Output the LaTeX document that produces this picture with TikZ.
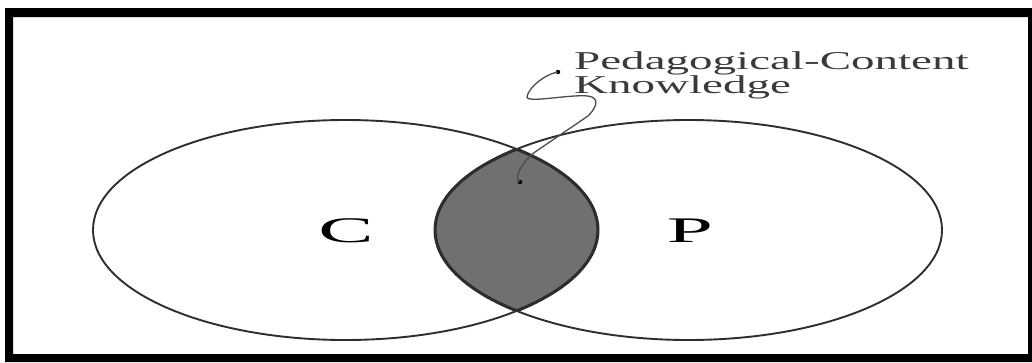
\documentclass[tikz,border=0pt]{standalone}
\usepackage{fontspec}
\setmainfont{Liberation Serif}
\definecolor{edge}{HTML}{2E2E2E}
\definecolor{lens}{HTML}{707070}
\definecolor{txt}{HTML}{3A3A3A}
\begin{document}
\begin{tikzpicture}[x=1pt,y=-1pt,
  venn/.style={draw=edge,line width=1.9pt},
  lensedge/.style={draw=black!85,line width=3pt},
  lead/.style={draw=black!70,line width=1.3pt},
  leaddot/.style={fill=black,inner sep=0pt,minimum size=4.5pt,circle},
  letter/.style={inner sep=0pt,font=\fontsize{36}{36}\selectfont}]
\useasboundingbox (0,0) rectangle (1032,362);
% frame
\fill[black,even odd rule] (5,8) rectangle (1032,362) (13,17) rectangle (1028,354);
% lens fill
\begin{scope}
  \clip (345.5,230) ellipse [x radius=252.5,y radius=110];
  \fill[lens] (688.5,230) ellipse [x radius=253.5,y radius=110];
  \draw[lensedge] (688.5,230) ellipse [x radius=253.5,y radius=110];
\end{scope}
\begin{scope}
  \clip (688.5,230) ellipse [x radius=253.5,y radius=110];
  \draw[lensedge] (345.5,230) ellipse [x radius=252.5,y radius=110];
\end{scope}
% circles
\draw[venn] (345.5,230) ellipse [x radius=252.5,y radius=110];
\draw[venn] (688.5,230) ellipse [x radius=253.5,y radius=110];
% letters
\node[letter] (C) at (346,231) {\scalebox{2.3}[1]{C}};
\node[letter] (P) at (690,231) {\scalebox{2.3}[1]{P}};
% label
\node[anchor=base west,inner sep=0pt,text=txt,font=\fontsize{25.7}{21}\selectfont] (pck) at (574,69)
  {\scalebox{1.83}[1]{\begin{tabular}[t]{@{}l@{}}Pedagogical-Content\\Knowledge\end{tabular}}};
% leader
\node[leaddot] (dotA) at (558,72) {};
\node[leaddot] (dotB) at (520,182) {};
\draw[lead] (dotA.center) .. controls (545,74) and (528,88) .. (527,97)
  .. controls (527,104) and (580,92) .. (592,97)
  .. controls (600,101) and (594,110) .. (588,116)
  -- (535,152) .. controls (522,162) and (513,178) .. (dotB.center);
\end{tikzpicture}
\end{document}
